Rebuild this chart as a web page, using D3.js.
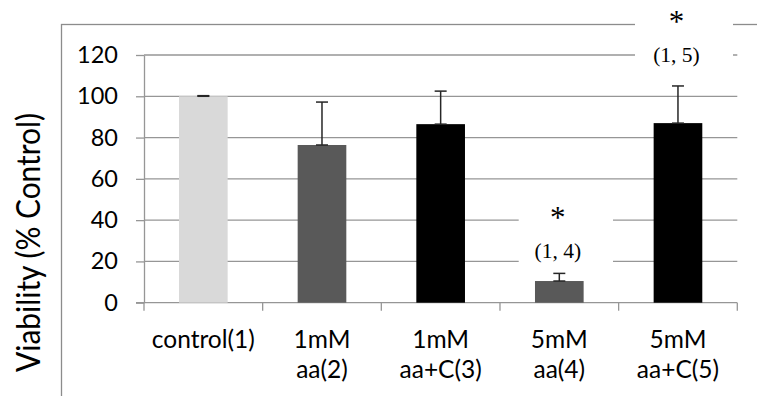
<!DOCTYPE html>
<meta charset="utf-8">
<style>
body { margin:0; background:#fff; }
svg { display:block; }
.tick text { font-family:Lato, "Open Sans", sans-serif; }
</style>
<body>
<div id="chart"></div>
<script src="https://cdnjs.cloudflare.com/ajax/libs/d3/7.8.5/d3.min.js"></script>
<script>
// data
var categories = ["control(1)", "1mM|aa(2)", "1mM|aa+C(3)", "5mM|aa(4)", "5mM|aa+C(5)"];
var viability = [100, 76.4, 86.5, 10.5, 87.0];
var errors = [0.3, 20.8, 16.0, 3.7, 18.0];
var yTicks = [0, 20, 40, 60, 80, 100, 120];
// significance notes: category index, star and group label
var sigIndex = [3, 4];
var sigLabels = ["(1, 4)", "(1, 5)"];

var width = 757, height = 396;
var barColors = ["#d9d9d9", "#595959", "#000000", "#595959", "#000000"];

var svg = d3.select("#chart").append("svg").attr("width", width).attr("height", height);

// outer chart border (cut by the picture edge)
svg.append("rect")
  .attr("x", 61.5).attr("y", 24.5)
  .attr("width", 800).attr("height", 500)
  .attr("fill", "none").attr("stroke", "#8c8c8c").attr("stroke-width", 1.3);

var x = d3.scaleBand().domain(categories).range([144, 737.3]).padding(0);
var y = d3.scaleLinear().domain([0, 120]).range([302.7, 55]);

// grid lines
svg.append("g")
  .selectAll("line")
  .data(yTicks.slice(1))
  .enter()
  .append("line")
  .attr("x1", 144).attr("x2", 737.3)
  .attr("y1", function(d) { return y(d); })
  .attr("y2", function(d) { return y(d); })
  .attr("stroke", "#969696").attr("stroke-width", 1.3);

// y axis
var yAxis = svg.append("g")
  .attr("transform", "translate(144,0)")
  .call(d3.axisLeft(y).tickValues(yTicks).tickSize(8).tickPadding(18).tickSizeOuter(0));
yAxis.select(".domain").attr("stroke", "#969696").attr("stroke-width", 1.3);
yAxis.selectAll(".tick line").attr("stroke", "#969696").attr("stroke-width", 1.3);
yAxis.selectAll(".tick text").attr("font-size", 23.5).attr("fill", "#000");

// x axis line and ticks at category boundaries
var bounds = categories.map(function(d) { return x(d); }).concat([x.range()[1]]);
svg.append("line")
  .attr("x1", 136).attr("x2", 737.3)
  .attr("y1", y(0)).attr("y2", y(0))
  .attr("stroke", "#969696").attr("stroke-width", 1.3);
svg.append("g")
  .selectAll("line")
  .data(bounds)
  .enter()
  .append("line")
  .attr("x1", function(d) { return d; }).attr("x2", function(d) { return d; })
  .attr("y1", y(0)).attr("y2", y(0) + 8)
  .attr("stroke", "#969696").attr("stroke-width", 1.3);

// x labels (two lines)
var labels = svg.append("g")
  .selectAll("text")
  .data(categories)
  .enter()
  .append("text")
  .attr("font-family", "Lato, Open Sans, sans-serif")
  .attr("font-size", 24.5)
  .attr("text-anchor", "middle")
  .attr("fill", "#000");
labels.each(function(d) {
  var t = d3.select(this);
  d.split("|").forEach(function(part, i) {
    t.append("tspan")
      .attr("x", x(d) + x.bandwidth() / 2)
      .attr("y", 348 + i * 30)
      .text(part);
  });
});

// bars
var barW = x.bandwidth() * 0.41;
svg.append("g")
  .selectAll("rect")
  .data(viability)
  .enter()
  .append("rect")
  .attr("x", function(d, i) { return x(categories[i]) + (x.bandwidth() - barW) / 2; })
  .attr("y", function(d) { return y(d); })
  .attr("width", barW)
  .attr("height", function(d) { return y(0) - y(d); })
  .attr("fill", function(d, i) { return barColors[i]; });

// error bars (positive only, caps at both ends)
var eb = svg.append("g").attr("stroke", "#262626").attr("stroke-width", 1.5);
viability.forEach(function(v, i) {
  var cx = x(categories[i]) + x.bandwidth() / 2;
  eb.append("line").attr("x1", cx).attr("x2", cx).attr("y1", y(v)).attr("y2", y(v + errors[i]));
  eb.append("line").attr("x1", cx - 6).attr("x2", cx + 6).attr("y1", y(v + errors[i])).attr("y2", y(v + errors[i]));
  eb.append("line").attr("x1", cx - 6).attr("x2", cx + 6).attr("y1", y(v)).attr("y2", y(v));
});

// significance text boxes (white background hides grid lines)
var noteLayout = [
  { box: [518.7, 200, 94.3, 66], star: 36.2, label: 21.5 },
  { box: [635, 0, 98, 80], star: 131.1, label: 116.4 }
];
sigIndex.forEach(function(ci, k) {
  var L = noteLayout[k];
  var cx = x(categories[ci]) + x.bandwidth() / 2;
  svg.append("rect")
    .attr("x", L.box[0]).attr("y", L.box[1])
    .attr("width", L.box[2]).attr("height", L.box[3])
    .attr("fill", "#fff");
  svg.append("text")
    .attr("x", cx - 1.5).attr("y", y(L.star))
    .attr("font-family", "Liberation Serif, Times New Roman, serif")
    .attr("font-size", 31).attr("text-anchor", "middle")
    .text("*");
  svg.append("text")
    .attr("x", cx - 1.5).attr("y", y(L.label))
    .attr("font-family", "Liberation Serif, Times New Roman, serif")
    .attr("font-size", 21.5).attr("text-anchor", "middle")
    .text(sigLabels[k]);
});

// y axis title
svg.append("text")
  .attr("transform", "translate(40,242.5) rotate(-90)")
  .attr("font-family", "Lato, Open Sans, sans-serif")
  .attr("font-size", 33)
  .attr("text-anchor", "middle")
  .attr("textLength", 259)
  .attr("lengthAdjust", "spacingAndGlyphs")
  .attr("fill", "#000")
  .text("Viability (% Control)");
</script>
</body>
